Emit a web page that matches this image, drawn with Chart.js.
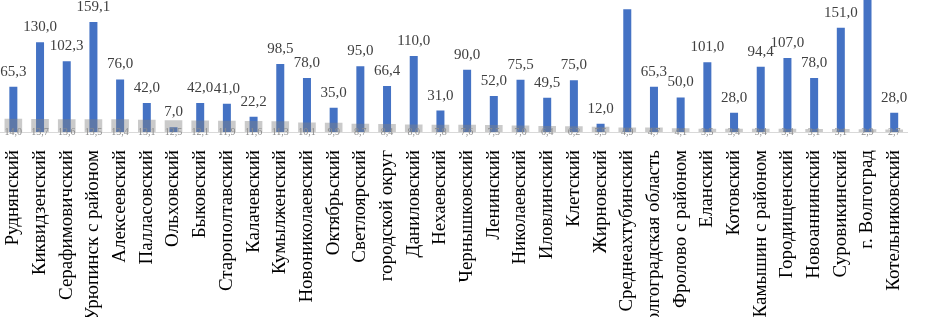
<!DOCTYPE html>
<html>
<head>
<meta charset="utf-8">
<script src="https://cdn.jsdelivr.net/npm/chart.js@4/dist/chart.umd.min.js"></script>
<style>
  html, body { margin: 0; padding: 0; background: #ffffff; overflow: hidden; }
  #wrap { width: 927px; height: 317px; position: relative; }
</style>
</head>
<body>
<div id="wrap"><canvas id="c"></canvas></div>
<script>
const categories = [
  'Руднянский', 'Киквидзенский', 'Серафимовичский', 'Урюпинск с районом', 'Алексеевский',
  'Палласовский', 'Ольховский', 'Быковский', 'Старополтавский', 'Калачевский',
  'Кумылженский', 'Новониколаевский', 'Октябрьский', 'Светлоярский', 'городской округ',
  'Даниловский', 'Нехаевский', 'Чернышковский', 'Ленинский', 'Николаевский',
  'Иловлинский', 'Клетский', 'Жирновский', 'Среднеахтубинский', 'Волгоградская область',
  'Фролово с районом', 'Еланский', 'Котовский', 'Камышин с районом', 'Городищенский',
  'Новоаннинский', 'Суровикинский', 'г. Волгоград', 'Котельниковский'
];
const mainValues = [
  65.3, 130.0, 102.3, 159.1, 76.0,
  42.0, 7.0, 42.0, 41.0, 22.2,
  98.5, 78.0, 35.0, 95.0, 66.4,
  110.0, 31.0, 90.0, 52.0, 75.5,
  49.5, 75.0, 12.0, 177.5, 65.3,
  50.0, 101.0, 28.0, 94.4, 107.0,
  78.0, 151.0, 230.0, 28.0
];
const secondValues = [
  14.0, 13.7, 13.6, 13.5, 13.4,
  13.1, 12.5, 12.1, 11.9, 11.6,
  11.3, 10.1, 9.9, 8.7, 8.4,
  8.0, 7.8, 7.6, 7.5, 7.0,
  6.4, 6.2, 5.5, 4.9, 4.7,
  4.1, 3.5, 3.4, 3.4, 3.4,
  3.1, 3.1, 2.9, 2.7
];
const yMax = 191;
const y2Max = 140;

function fmt(v) { return v.toFixed(1).replace('.', ','); }

const labelPlugin = {
  id: 'valLabels',
  afterDatasetsDraw(chart) {
    const ctx = chart.ctx;
    ctx.save();
    const meta0 = chart.getDatasetMeta(0);
    ctx.font = '15px "Liberation Serif"';
    ctx.fillStyle = '#404040';
    ctx.textAlign = 'center';
    ctx.textBaseline = 'alphabetic';
    meta0.data.forEach((bar, i) => {
      const y = bar.y - 11;
      if (mainValues[i] > yMax || y < 8) return;
      ctx.fillText(fmt(mainValues[i]), bar.x, y);
    });
    const meta1 = chart.getDatasetMeta(1);
    ctx.font = '10px "Liberation Serif"';
    ctx.fillStyle = '#8c8c8c';
    ctx.textBaseline = 'middle';
    meta1.data.forEach((bar, i) => {
      ctx.fillText(fmt(secondValues[i]), bar.x, chart.chartArea.bottom + 0.5);
    });
    ctx.restore();
  }
};

new Chart(document.getElementById('c'), {
  type: 'bar',
  data: {
    labels: categories,
    datasets: [
      {
        label: 'main',
        data: mainValues,
        backgroundColor: '#4472C4',
        barPercentage: 0.3,
        categoryPercentage: 1,
        grouped: false,
        yAxisID: 'y',
        order: 1
      },
      {
        label: 'second',
        data: secondValues,
        backgroundColor: 'rgba(128,128,128,0.42)',
        barPercentage: 0.66,
        categoryPercentage: 1,
        grouped: false,
        yAxisID: 'y2',
        order: 0
      }
    ]
  },
  options: {
    responsive: true,
    maintainAspectRatio: false,
    animation: false,
    layout: { padding: 0 },
    plugins: { legend: { display: false }, tooltip: { enabled: false } },
    scales: {
      x: {
        grid: { display: false },
        border: { display: true, color: '#d9d9d9', width: 1 },
        ticks: {
          autoSkip: false,
          minRotation: 90,
          maxRotation: 90,
          padding: 10,
          color: '#000000',
          font: { family: '"Liberation Serif"', size: 19 }
        },
        afterFit(scale) { scale.height = 185; }
      },
      y: { display: false, min: 0, max: yMax },
      y2: { display: false, min: 0, max: y2Max }
    }
  },
  plugins: [labelPlugin]
});
</script>
</body>
</html>
